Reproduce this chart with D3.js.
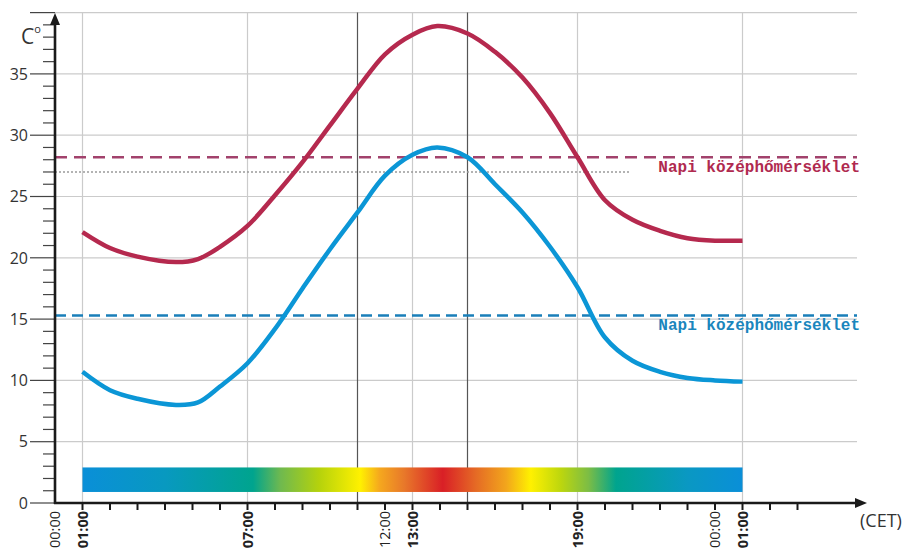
<!DOCTYPE html>
<html>
<head>
<meta charset="utf-8">
<script src="https://cdn.jsdelivr.net/npm/d3@7"></script>
<style>
  body { margin: 0; background: #fff; }
  svg { display: block; }
  .ylab { font-family: "Open Sans", sans-serif; font-size: 16px; fill: #333; }
  .xlab { font-family: "Open Sans", sans-serif; font-size: 14.5px; fill: #222; }
  .avg { font-family: "Liberation Mono", monospace; font-size: 16px; font-weight: bold; }
</style>
</head>
<body>
<div id="chart"></div>
<script>
// hours counted from 00:00 of the first day
const hours = [1, 2, 3, 4.4, 5.2, 6, 7, 8, 9, 10, 11, 12, 13, 13.9, 15, 16, 17, 18, 19, 20, 21, 22, 23, 24, 25];
const maxTemps = [22.1, 20.8, 20.1, 19.65, 19.9, 20.9, 22.6, 25.1, 27.8, 30.8, 33.8, 36.6, 38.2, 38.9, 38.3, 36.8, 34.7, 31.8, 28.2, 24.7, 23.1, 22.2, 21.6, 21.4, 21.4];
const minTemps = [10.7, 9.2, 8.5, 8.0, 8.2, 9.5, 11.4, 14.2, 17.5, 20.7, 23.7, 26.7, 28.4, 29.0, 28.2, 26.0, 23.7, 20.9, 17.6, 13.5, 11.6, 10.7, 10.2, 10.0, 9.9];
const maxAvg = 28.2;
const minAvg = 15.3;
const greyAvg = 27.0;
const avgLabel = "Napi középhőmérséklet";

const tickHours = [0, 1, 7, 12, 13, 19, 24, 25];
const tickLabels = ["00:00", "01:00", "07:00", "12:00", "13:00", "19:00", "00:00", "01:00"];
const tickBold = [false, true, true, false, true, true, false, true];
const gridHours = [1, 7, 13, 19, 25];
const markHours = [11, 15];

const gradHours = [1, 4, 7.2, 8.2, 9.6, 11.1, 11.8, 12.7, 14.1, 15.3, 16.4, 17.3, 18.4, 19.4, 20.4, 23, 25];
const gradColors = ["#0a8fd8", "#0899c0", "#00a48e", "#6fb94f", "#b5d20c", "#fff100", "#f5a81e", "#e8782a", "#d91f26",
                    "#e56a25", "#f2a51c", "#fff100", "#bcd60e", "#7cbd45", "#00a48e", "#0a98c3", "#0a8fd8"];

const width = 909, height = 552;

const svg = d3.select("#chart").append("svg")
    .attr("width", width)
    .attr("height", height);

const x = d3.scaleLinear().domain([0, 28]).range([55, 825]);
const y = d3.scaleLinear().domain([0, 40]).range([503, 12.6]);

// grid
svg.append("g").selectAll("line")
    .data(d3.range(5, 41, 5))
    .enter().append("line")
    .attr("x1", x(0)).attr("x2", 857)
    .attr("y1", d => y(d)).attr("y2", d => y(d))
    .attr("stroke", "#cbcbcb").attr("stroke-width", 1.2);

svg.append("g").selectAll("line")
    .data(gridHours)
    .enter().append("line")
    .attr("x1", d => x(d)).attr("x2", d => x(d))
    .attr("y1", y(0)).attr("y2", y(40))
    .attr("stroke", "#cbcbcb").attr("stroke-width", 1.2);

svg.append("g").selectAll("line")
    .data(markHours)
    .enter().append("line")
    .attr("x1", d => x(d)).attr("x2", d => x(d))
    .attr("y1", y(0)).attr("y2", y(40))
    .attr("stroke", "#555").attr("stroke-width", 1.2);

// colour bar
const grad = svg.append("defs").append("linearGradient")
    .attr("id", "dayGrad")
    .attr("gradientUnits", "userSpaceOnUse")
    .attr("x1", x(1)).attr("x2", x(25))
    .attr("y1", 0).attr("y2", 0);

grad.selectAll("stop")
    .data(gradHours)
    .enter().append("stop")
    .attr("offset", d => (d - 1) / 24)
    .attr("stop-color", (d, i) => gradColors[i]);

svg.append("rect")
    .attr("x", x(1))
    .attr("y", y(2.9))
    .attr("width", x(25) - x(1))
    .attr("height", y(0.9) - y(2.9))
    .attr("fill", "url(#dayGrad)");

// average lines
svg.append("line")
    .attr("x1", x(0)).attr("x2", 630)
    .attr("y1", y(greyAvg)).attr("y2", y(greyAvg))
    .attr("stroke", "#9a9a9a").attr("stroke-width", 1.6)
    .attr("stroke-dasharray", "2,2");

svg.append("line")
    .attr("x1", x(0)).attr("x2", 857)
    .attr("y1", y(maxAvg)).attr("y2", y(maxAvg))
    .attr("stroke", "#a2426c").attr("stroke-width", 2.5)
    .attr("stroke-dasharray", "12,7");

svg.append("line")
    .attr("x1", x(0)).attr("x2", 857)
    .attr("y1", y(minAvg)).attr("y2", y(minAvg))
    .attr("stroke", "#1a7fb9").attr("stroke-width", 2.5)
    .attr("stroke-dasharray", "11,6");

svg.append("text")
    .attr("class", "avg")
    .attr("x", 860).attr("y", y(maxAvg) + 15)
    .attr("text-anchor", "end")
    .attr("fill", "#b02a4f")
    .text(avgLabel);

svg.append("text")
    .attr("class", "avg")
    .attr("x", 860).attr("y", y(minAvg) + 15)
    .attr("text-anchor", "end")
    .attr("fill", "#1a86bd")
    .text(avgLabel);

// temperature curves
const line = d3.line()
    .x(d => x(d[0]))
    .y(d => y(d[1]))
    .curve(d3.curveCatmullRom.alpha(0.5));

svg.append("path")
    .datum(hours.map((h, i) => [h, maxTemps[i]]))
    .attr("d", line)
    .attr("fill", "none")
    .attr("stroke", "#b5294e")
    .attr("stroke-width", 4.5);

svg.append("path")
    .datum(hours.map((h, i) => [h, minTemps[i]]))
    .attr("d", line)
    .attr("fill", "none")
    .attr("stroke", "#0b96d6")
    .attr("stroke-width", 4.5);

// y axis
const yAxis = svg.append("g");

yAxis.selectAll(".minor")
    .data(d3.range(1, 40).filter(v => v % 5 !== 0))
    .enter().append("line")
    .attr("x1", 43).attr("x2", x(0))
    .attr("y1", d => y(d)).attr("y2", d => y(d))
    .attr("stroke", "#444").attr("stroke-width", 1.2);

yAxis.selectAll(".major")
    .data(d3.range(0, 41, 5))
    .enter().append("line")
    .attr("x1", 30).attr("x2", x(0))
    .attr("y1", d => y(d)).attr("y2", d => y(d))
    .attr("stroke", "#444").attr("stroke-width", 1.2);

yAxis.selectAll("text")
    .data(d3.range(0, 36, 5))
    .enter().append("text")
    .attr("class", "ylab")
    .attr("x", 28)
    .attr("y", d => y(d))
    .attr("dy", "0.36em")
    .attr("text-anchor", "end")
    .text(d => d);

yAxis.append("line")
    .attr("x1", x(0)).attr("x2", x(0))
    .attr("y1", y(0) + 1).attr("y2", 22)
    .attr("stroke", "#1a1a1a").attr("stroke-width", 2.6);

yAxis.append("path")
    .attr("d", `M${x(0)},13 L${x(0) - 5},25 L${x(0) + 5},25 Z`)
    .attr("fill", "#1a1a1a");

const cLabel = svg.append("text")
    .attr("x", 21).attr("y", 44)
    .attr("font-family", "Open Sans, sans-serif")
    .attr("font-size", 21)
    .attr("fill", "#333");
cLabel.append("tspan").text("C");
cLabel.append("tspan").attr("font-size", 11).attr("dy", -11).text("o");

// x axis
const xAxis = svg.append("g");

xAxis.append("line")
    .attr("x1", x(0) - 1).attr("x2", 858)
    .attr("y1", y(0)).attr("y2", y(0))
    .attr("stroke", "#1a1a1a").attr("stroke-width", 2.6);

xAxis.append("path")
    .attr("d", `M867,${y(0)} L855,${y(0) - 5} L855,${y(0) + 5} Z`)
    .attr("fill", "#1a1a1a");

xAxis.selectAll(".tick")
    .data(d3.range(1, 28))
    .enter().append("line")
    .attr("x1", d => x(d)).attr("x2", d => x(d))
    .attr("y1", y(0)).attr("y2", y(0) + 7)
    .attr("stroke", "#1a1a1a").attr("stroke-width", 2);

xAxis.selectAll("text")
    .data(tickHours)
    .enter().append("text")
    .attr("class", "xlab")
    .attr("transform", d => `translate(${x(d)},511) rotate(-90)`)
    .attr("dy", "0.36em")
    .attr("text-anchor", "end")
    .attr("font-weight", (d, i) => tickBold[i] ? "bold" : "normal")
    .text((d, i) => tickLabels[i]);

svg.append("text")
    .attr("x", 860).attr("y", 527)
    .attr("font-family", "Open Sans, sans-serif")
    .attr("font-size", 18)
    .attr("fill", "#333")
    .text("(CET)");
</script>
</body>
</html>
